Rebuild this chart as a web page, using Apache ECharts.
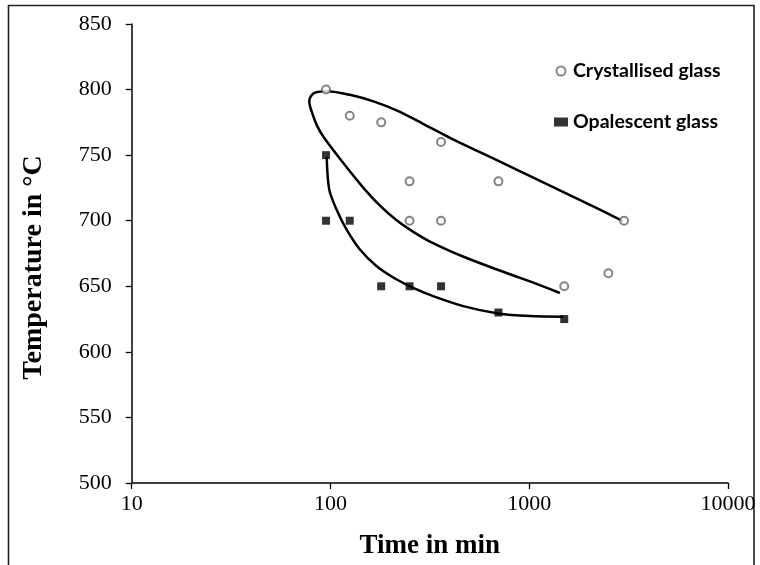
<!DOCTYPE html>
<html>
<head>
<meta charset="utf-8">
<script src="https://cdn.jsdelivr.net/npm/echarts@6/dist/echarts.min.js"></script>
<style>
html,body{margin:0;padding:0;background:#fff;}
#chart{width:760px;height:565px;}
</style>
</head>
<body>
<div id="chart"></div>
<script>
// Scatter data
const crystTime = [95, 125, 180, 360, 250, 700, 250, 360, 3000, 2500, 1500];
const crystTemp = [800, 780, 775, 760, 730, 730, 700, 700, 700, 660, 650];
const opalTime = [95, 95, 125, 180, 250, 360, 700, 1500];
const opalTemp = [750, 700, 700, 650, 650, 650, 630, 625];

// Hand-drawn boundary curves
const crystCurveTime = [1427, 1008, 688, 464, 316.6, 260, 216, 177.5, 149.1, 111.6, 92.0, 85.2, 80.4, 78.2, 79.5, 83.6, 96.0, 125.4, 167.4, 223.7, 298.8, 399.1, 712.2, 1271, 2268, 2960];
const crystCurveTemp = [644.9, 653.7, 662.8, 672.7, 684.1, 691.7, 700.1, 711.5, 723.7, 747.3, 764.2, 773.1, 783.3, 790.9, 794.7, 797.7, 798.8, 796.0, 790.6, 783.0, 773.1, 763.2, 745.0, 726.7, 708.4, 699.7];
const opalCurveTime = [95.7, 98.6, 107.4, 120.6, 140.7, 170.8, 215.3, 271.5, 316.6, 465.6, 698, 1008, 1483];
const opalCurveTemp = [748.6, 723.7, 708.4, 693.2, 678.0, 665.3, 655.2, 647.6, 643.4, 634.9, 629.3, 627.3, 626.8];

// Axis settings
const xTicks = [10, 100, 1000, 10000];
const yMin = 500, yMax = 850, yStep = 50;

const zip = (a, b) => a.map((v, i) => [v, b[i]]);

const chart = echarts.init(document.getElementById('chart'), null, {renderer: 'canvas'});
chart.setOption({
  backgroundColor: '#fff',
  animation: false,
  graphic: [{
    type: 'rect',
    shape: {x: 8.5, y: 5.5, width: 745.5, height: 570},
    style: {fill: 'none', stroke: '#222', lineWidth: 1.6},
    silent: true
  }],
  grid: {left: 131.7, right: 32, top: 24, bottom: 81, containLabel: false},
  legend: {
    orient: 'vertical',
    left: 549,
    top: 56,
    itemWidth: 14,
    itemHeight: 9,
    itemGap: 31,
    data: ['Crystallised glass', 'Opalescent glass'],
    textStyle: {fontFamily: 'Lato', fontWeight: 'bold', fontSize: 19.5, color: '#000', lineHeight: 20}
  },
  xAxis: {
    type: 'log',
    logBase: 10,
    min: xTicks[0],
    max: xTicks[xTicks.length - 1],
    name: 'Time in min',
    nameLocation: 'middle',
    nameGap: 50,
    nameTextStyle: {fontFamily: 'Liberation Serif', fontWeight: 'bold', fontSize: 27, color: '#000'},
    axisLine: {lineStyle: {color: '#000', width: 1.5}},
    axisTick: {show: true, length: 6, lineStyle: {color: '#000', width: 1.3}},
    minorTick: {show: false},
    splitLine: {show: false},
    axisLabel: {
      margin: 10,
      fontFamily: 'Liberation Serif', fontSize: 22, color: '#000',
      formatter: v => String(Math.round(v))
    }
  },
  yAxis: {
    type: 'value',
    min: yMin,
    max: yMax,
    interval: yStep,
    name: 'Temperature in °C',
    nameLocation: 'middle',
    nameGap: 84,
    nameTextStyle: {fontFamily: 'Liberation Serif', fontWeight: 'bold', fontSize: 28, color: '#000', padding: [0, 28, 0, 0]},
    axisLine: {show: true, lineStyle: {color: '#000', width: 1.5}},
    axisTick: {show: true, length: 6, lineStyle: {color: '#000', width: 1.3}},
    splitLine: {show: false},
    axisLabel: {margin: 20, fontFamily: 'Liberation Serif', fontSize: 22, color: '#000'}
  },
  series: [
    {
      type: 'line',
      name: 'crystCurve',
      data: zip(crystCurveTime, crystCurveTemp),
      smooth: 0.3,
      showSymbol: false,
      symbol: 'none',
      lineStyle: {color: '#000', width: 2.5},
      z: 2
    },
    {
      type: 'line',
      name: 'opalCurve',
      data: zip(opalCurveTime, opalCurveTemp),
      smooth: 0.3,
      showSymbol: false,
      symbol: 'none',
      lineStyle: {color: '#000', width: 2.5},
      z: 2
    },
    {
      type: 'scatter',
      name: 'Crystallised glass',
      data: zip(crystTime, crystTemp),
      symbol: 'emptyCircle',
      symbolSize: 8,
      itemStyle: {color: '#666', borderColor: '#666', borderWidth: 1.2},
      z: 3
    },
    {
      type: 'scatter',
      name: 'Opalescent glass',
      data: zip(opalTime, opalTemp),
      symbol: 'rect',
      symbolSize: 8,
      itemStyle: {color: '#000'},
      z: 3
    }
  ]
});
</script>
</body>
</html>
